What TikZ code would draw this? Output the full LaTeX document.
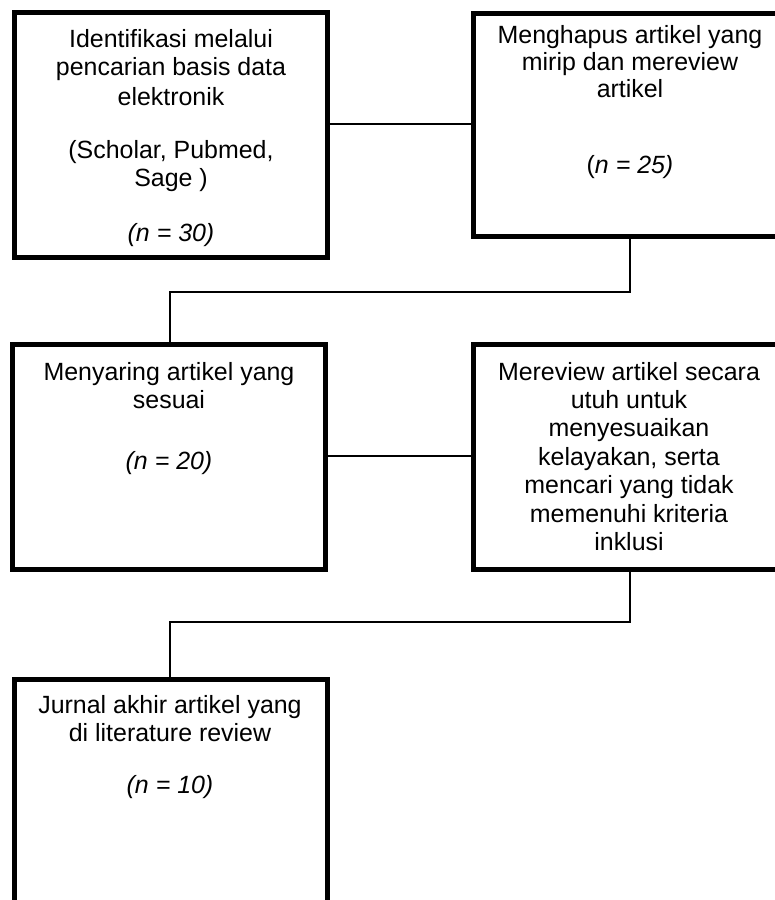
\documentclass[tikz,border=0pt]{standalone}
\usepackage{fontspec}
\setmainfont{Liberation Sans}
\begin{document}
\begin{tikzpicture}[x=0.75pt,y=-0.75pt,
  box/.style={draw=black,line width=3.75pt,inner sep=0pt,minimum width=234.75pt},
  conn/.style={draw=black,line width=1.1pt},
  txt/.style={anchor=base,inner sep=0pt,font=\fontsize{18.7}{21.3}\selectfont}]
\useasboundingbox[fill=white] (0,0) rectangle (775,900);
% boxes
\node[box,minimum height=183.75pt] (b1) at (171,135) {};
\node[box,minimum height=167.6pt] (b2) at (630,125.25) {};
\node[box,minimum height=169.1pt] (b3) at (169,456.75) {};
\node[box,minimum height=168.75pt] (b4) at (630,456.5) {};
\node[box,minimum height=187.5pt] (b5) at (170.5,804) {};
% box 1 text
\node[txt] (t1a) at (171,47.5) {Identifikasi melalui};
\node[txt] (t1b) at (171,75.5) {pencarian basis data};
\node[txt] (t1c) at (171,105) {elektronik};
\node[txt] (t1d) at (171,158) {(Scholar, Pubmed,};
\node[txt] (t1e) at (171,186.5) {Sage )};
\node[txt] (t1f) at (171,241.5) {\itshape (n = 30)};
% box 2 text
\node[txt] (t2a) at (630,43) {Menghapus artikel yang};
\node[txt] (t2b) at (630,70.5) {mirip dan mereview};
\node[txt] (t2c) at (630,97) {artikel};
\node[txt] (t2d) at (630,173.5) {(\textit{n = 25)}};
% box 3 text
\node[txt] (t3a) at (169,380) {Menyaring artikel yang};
\node[txt] (t3b) at (169,408.5) {sesuai};
\node[txt] (t3c) at (169,469.5) {\itshape (n = 20)};
% box 4 text
\node[txt] (t4a) at (629,380) {Mereview artikel secara};
\node[txt] (t4b) at (629,408.4) {utuh untuk};
\node[txt] (t4c) at (629,436.8) {menyesuaikan};
\node[txt] (t4d) at (629,465.2) {kelayakan, serta};
\node[txt] (t4e) at (629,493.6) {mencari yang tidak};
\node[txt] (t4f) at (629,522) {memenuhi kriteria};
\node[txt] (t4g) at (629,550.4) {inklusi};
% box 5 text
\node[txt] (t5a) at (170,713.5) {Jurnal akhir artikel yang};
\node[txt] (t5b) at (170,741.5) {di literature review};
\node[txt] (t5c) at (170,793.5) {\itshape (n = 10)};
% connectors
\coordinate (k1) at (400,124);
\coordinate (k2) at (170,292);
\coordinate (k3) at (400,456);
\coordinate (k4) at (170,622);
\draw[conn] (k1 -| b1.east) -- (k1 -| b2.west);
\draw[conn] (b2.south) |- (k2) -- (k2 |- b3.north);
\draw[conn] (k3 -| b3.east) -- (k3 -| b4.west);
\draw[conn] (b4.south) |- (k4) -- (k4 |- b5.north);
\end{tikzpicture}
\end{document}
